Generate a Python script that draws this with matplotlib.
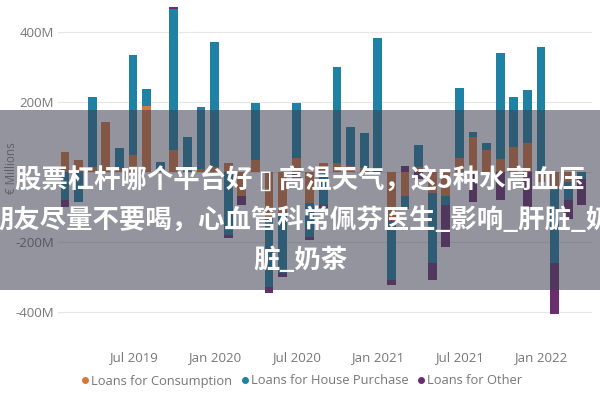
import matplotlib
matplotlib.use("Agg")
import matplotlib.pyplot as plt
import numpy as np
import pandas as pd
from matplotlib.patches import Rectangle
from matplotlib.lines import Line2D

# ---- data (EUR millions, monthly) ----
months = pd.date_range("2019-02-01", periods=39, freq="MS")
consumption = [57, 34, 14, 143, 8, 49, 189, 0, 63, 0, 9, 14,
               25, -70, 34, -130, -120, 40, -90, 25, 25, 15, 12, 0,
               -140, -70, 14, -60, -70, 40, 100, 63, 35, 72, 83, -30,
               -45, -30, 0]
house = [-80, -85, 200, 0, 61, 285, 46, 29, 400, 100, 177, 355,
         -180, 0, 163, -200, -170, 155, -95, -95, 275, 113, 99, 383,
         -170, -35, 63, -200, -25, 200, 14, 20, 305, 142, 151, 357,
         -215, -50, -20]
other = [-20, 0, 0, 0, 0, 0, 0, 0, 8, 0, 0, 0,
         -10, -25, 0, -15, -10, -20, -10, -8, 0, 0, 0, 0,
         -12, 15, -20, -50, -120, 0, -85, 0, -80, 0, -100, 0,
         -145, -55, -75]
series_names = ["Loans for Consumption", "Loans for House Purchase", "Loans for Other"]
series_colors = ["#D7783A", "#1F82A4", "#6A2E6E"]
yticks = [-400, -200, 0, 200, 400]
tick_months = ["2019-07", "2020-01", "2020-07", "2021-01", "2021-07", "2022-01"]
banner_lines = ["股票杠杆哪个平台好 ▯ 高温天气，这5种水高血压",
                "朋友尽量不要喝，心血管科常佩芬医生_影响_肝脏_奶",
                "脏_奶茶"]

fig = plt.figure(figsize=(6, 4), dpi=100)
ax = fig.add_axes([58/600, 0.15, 534/600, 0.85])

x = np.arange(len(months))
pos_bottom = np.zeros(len(x))
neg_bottom = np.zeros(len(x))
for vals, col in zip([consumption, house, other], series_colors):
    v = np.array(vals, dtype=float)
    p = np.where(v > 0, v, 0)
    n = np.where(v < 0, v, 0)
    ax.bar(x, p, bottom=pos_bottom, width=0.66, color=col, zorder=3)
    ax.bar(x, n, bottom=neg_bottom, width=0.66, color=col, zorder=3)
    pos_bottom += p
    neg_bottom += n

ax.set_xlim(-0.515, 38.75)
ax.set_ylim(-480, 490)
ax.set_yticks(yticks)
# the 0M label sits hidden beneath the banner text in the reference
ax.set_yticklabels([f"{v}M" if v != 0 else "" for v in yticks])
month_strs = [m.strftime("%Y-%m") for m in months]
tpos = [month_strs.index(t) for t in tick_months]
ax.set_xticks(tpos)
ax.set_xticklabels([months[p].strftime("%b %Y") for p in tpos])
for s in ax.spines.values():
    s.set_visible(False)
ax.tick_params(length=0, colors="#777777", labelsize=9.5)
ax.tick_params(axis="x", pad=8)
ax.tick_params(axis="y", pad=3)
for lab in ax.get_xticklabels() + ax.get_yticklabels():
    lab.set_family("Open Sans")
ax.grid(axis="y", color="#e6e6e6", lw=0.8, zorder=0)
ax.set_axisbelow(True)

fig.text(12/600, 1-168/400, "€ Millions", rotation=90, ha="center", va="center",
         color="#888888", fontsize=8.5, family="Open Sans")

handles = [Line2D([], [], marker="o", ls="", color=c, markersize=4) for c in series_colors]
leg = fig.legend(handles, series_names, loc="center", bbox_to_anchor=(0.502, 1-381/400),
                 ncol=3, frameon=False, handletextpad=0.05, columnspacing=0.6,
                 prop={"family": "Open Sans", "size": 9.3}, handlelength=0.8)
for t in leg.get_texts():
    t.set_color("#777777")

# overlay banner
fig.patches.append(Rectangle((0, 1-290/400), 1, 180/400, transform=fig.transFigure,
                             facecolor=(0.24, 0.24, 0.31), alpha=0.55, zorder=10,
                             edgecolor="none"))
for yc, line in zip([181, 221, 261], banner_lines):
    fig.text(0.5, 1-yc/400, line, ha="center", va="center", color="white",
             fontsize=19, fontweight="bold", zorder=11,
             family=["Noto Sans CJK SC", "DejaVu Sans"])

fig.savefig("out.png", dpi=100)
